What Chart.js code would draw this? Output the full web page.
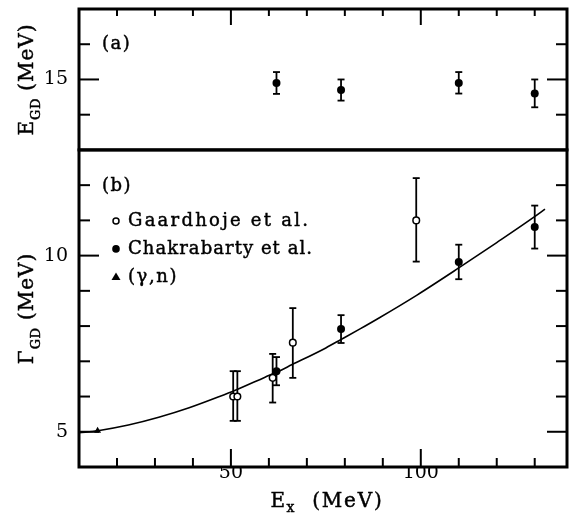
<!DOCTYPE html>
<html>
<head>
<meta charset="utf-8">
<script src="https://cdn.jsdelivr.net/npm/chart.js@4/dist/chart.umd.min.js"></script>
<style>
  html, body { margin: 0; padding: 0; background: #fff; }
  canvas { display: block; }
</style>
</head>
<body>
<canvas id="c" width="573" height="514"></canvas>
<script>
// Axis ticks (only the listed ones carry a label)
const X_TICKS = [20, 30, 40, 50, 60, 70, 80, 90, 100, 110, 120, 130];
const X_LABELED = [50, 100];
const EGD_TICKS = [14, 15, 16];
const EGD_LABELED = [15];
const GGD_TICKS = [5, 6, 7, 8, 9, 10, 11, 12];
const GGD_LABELED = [5, 10];

// (a) GDR centroid energy, Chakrabarty et al.
const EGD_EX  = [62, 79, 110, 130];
const EGD_VAL = [14.90, 14.70, 14.90, 14.60];
const EGD_LO  = [14.59, 14.40, 14.60, 14.21];
const EGD_HI  = [15.21, 15.00, 15.21, 15.00];

// (b) GDR width
const GAARD_EX  = [50.6, 51.7, 61.0, 66.3, 98.8];
const GAARD_VAL = [6.00, 6.00, 6.53, 7.53, 11.00];
const GAARD_LO  = [5.31, 5.31, 5.83, 6.53, 9.83];
const GAARD_HI  = [6.72, 6.72, 7.21, 8.51, 12.20];

const CHAK_EX  = [62, 79, 110, 130];
const CHAK_VAL = [6.72, 7.92, 9.82, 10.81];
const CHAK_LO  = [6.32, 7.52, 9.33, 10.20];
const CHAK_HI  = [7.12, 8.31, 10.31, 11.42];

const GN_EX  = [14.9];
const GN_VAL = [5.03];

// Calculated width versus excitation energy
const CURVE_EX  = [10, 15, 23, 31, 39, 47, 51, 59, 62, 66, 75, 79, 84, 89, 99, 110, 120, 129.5, 132.7];
const CURVE_VAL = [4.97, 5.03, 5.19, 5.41, 5.68, 6.00, 6.17, 6.55, 6.69, 6.90, 7.38, 7.62, 7.92, 8.23, 8.88, 9.65, 10.37, 11.07, 11.32];

const SERIF = '"DejaVu Serif", serif';
const pts = (xs, ys) => xs.map((x, i) => ({ x: x, y: ys[i] }));

Chart.defaults.font.family = SERIF;
Chart.defaults.color = '#000';

function line(ctx, x1, y1, x2, y2) {
  ctx.beginPath();
  ctx.moveTo(x1, y1);
  ctx.lineTo(x2, y2);
  ctx.stroke();
}

// Filled text with a hairline outline to give it a little more weight
function inkText(ctx, t, x, y) {
  ctx.fillText(t, x, y);
  ctx.strokeText(t, x, y);
}

// Draws text made of runs, some of them lowered as subscripts
function runs(ctx, parts, x, y, center) {
  let total = 0;
  parts.forEach(p => {
    ctx.font = p.size + 'px ' + SERIF;
    ctx.letterSpacing = (p.ls || 0) + 'px';
    p.w = ctx.measureText(p.t).width;
    total += p.w;
  });
  let cx = center ? x - total / 2 : x;
  ctx.textAlign = 'left';
  parts.forEach(p => {
    ctx.font = p.size + 'px ' + SERIF;
    ctx.letterSpacing = (p.ls || 0) + 'px';
    inkText(ctx, p.t, cx, y + (p.dy || 0));
    cx += p.w;
  });
  ctx.letterSpacing = '0px';
}

const panelPlugin = {
  id: 'panels',
  beforeDatasetsDraw(chart) {
    const ctx = chart.ctx;
    ctx.save();
    ctx.strokeStyle = '#000';
    ctx.lineWidth = 1.8;
    chart.data.datasets.forEach((ds, i) => {
      if (!ds.lo) return;
      const meta = chart.getDatasetMeta(i);
      const s = chart.scales[ds.yAxisID];
      meta.data.forEach((el, j) => {
        const y1 = s.getPixelForValue(ds.lo[j]);
        const y2 = s.getPixelForValue(ds.hi[j]);
        line(ctx, el.x, y1, el.x, y2);
        line(ctx, el.x - 3.5, y1, el.x + 3.5, y1);
        line(ctx, el.x - 3.5, y2, el.x + 3.5, y2);
      });
    });
    ctx.restore();
  },
  afterDraw(chart) {
    const ctx = chart.ctx;
    const xs = chart.scales.x, ya = chart.scales.yA, yb = chart.scales.yB;
    ctx.save();
    ctx.strokeStyle = '#000';
    ctx.fillStyle = '#000';

    // inward tick marks
    ctx.lineWidth = 2;
    X_TICKS.forEach(v => {
      const px = xs.getPixelForValue(v);
      const maj = X_LABELED.includes(v);
      line(ctx, px, ya.top, px, ya.top + (maj ? 16 : 7));
      line(ctx, px, yb.bottom, px, yb.bottom - (maj ? 18 : 9));
    });
    [[ya, EGD_TICKS, EGD_LABELED], [yb, GGD_TICKS, GGD_LABELED]].forEach(([s, t, l]) => {
      t.forEach(v => {
        const py = s.getPixelForValue(v);
        const len = l.includes(v) ? 20 : 11;
        line(ctx, xs.left, py, xs.left + len, py);
        line(ctx, xs.right, py, xs.right - len, py);
      });
    });

    // panel frames
    ctx.lineWidth = 3;
    ctx.strokeRect(xs.left, ya.top, xs.right - xs.left, ya.bottom - ya.top);
    ctx.strokeRect(xs.left, yb.top, xs.right - xs.left, yb.bottom - yb.top);

    // panel tags and legend
    ctx.lineWidth = 0.45;
    ctx.textBaseline = 'middle';
    ctx.textAlign = 'left';
    ctx.font = '18px ' + SERIF;
    ctx.letterSpacing = '1.5px';
    inkText(ctx, '(a)', xs.left + 23, ya.top + 35);
    inkText(ctx, '(b)', xs.left + 23, yb.top + 36);

    const lx = xs.left + 37, tx = xs.left + 49;
    const rows = [yb.top + 71, yb.top + 99, yb.top + 127];
    ctx.letterSpacing = '2.25px';
    inkText(ctx, 'Gaardhoje et al.', tx, rows[0]);
    ctx.letterSpacing = '1.05px';
    inkText(ctx, 'Chakrabarty et al.', tx, rows[1]);
    ctx.letterSpacing = '1.6px';
    inkText(ctx, '(\u03b3,n)', tx, rows[2]);
    ctx.letterSpacing = '0px';

    ctx.lineWidth = 1.5;
    ctx.beginPath();
    ctx.arc(lx, rows[0], 3, 0, Math.PI * 2);
    ctx.fillStyle = '#fff';
    ctx.fill();
    ctx.stroke();
    ctx.fillStyle = '#000';
    ctx.beginPath();
    ctx.arc(lx, rows[1], 3.8, 0, Math.PI * 2);
    ctx.fill();
    ctx.beginPath();
    ctx.moveTo(lx, rows[2] - 4.5);
    ctx.lineTo(lx + 4.5, rows[2] + 3);
    ctx.lineTo(lx - 4.5, rows[2] + 3);
    ctx.closePath();
    ctx.fill();

    // axis titles
    ctx.lineWidth = 0.45;
    ctx.textBaseline = 'alphabetic';
    runs(ctx, [{ t: 'E', size: 20, ls: 1.5 }, { t: 'x', size: 14, dy: 5, ls: 1.5 }, { t: '  (MeV)', size: 20, ls: 1.8 }],
      327, 507, true);

    [[ya, 'E'], [yb, '\u0393']].forEach(([s, sym]) => {
      ctx.save();
      ctx.translate(33, (s.top + s.bottom) / 2);
      ctx.rotate(-Math.PI / 2);
      runs(ctx, [{ t: sym, size: 20, ls: 1 }, { t: 'GD', size: 13, dy: 7, ls: 0.5 }, { t: ' (MeV)', size: 20, ls: 1 }], 0, 0, true);
      ctx.restore();
    });
    ctx.restore();
  }
};

function yAxis(weight, min, max, ticks, labeled) {
  return {
    type: 'linear', position: 'left', stack: 'panels', stackWeight: weight,
    min: min, max: max,
    afterBuildTicks: s => { s.ticks = ticks.map(v => ({ value: v })); },
    afterFit: s => { s.width = 79; s.paddingTop = 0; s.paddingBottom = 0; },
    ticks: {
      callback: v => labeled.includes(v) ? String(v) : null,
      padding: 11, font: { size: 19 }, color: '#000'
    },
    grid: { display: false, drawTicks: false },
    border: { display: false }
  };
}

new Chart(document.getElementById('c'), {
  type: 'scatter',
  data: {
    datasets: [
      {
        label: 'E_GD', yAxisID: 'yA', data: pts(EGD_EX, EGD_VAL), lo: EGD_LO, hi: EGD_HI,
        pointRadius: 4, backgroundColor: '#000', borderColor: '#000', borderWidth: 0
      },
      {
        label: 'Gaardhoje et al.', yAxisID: 'yB', data: pts(GAARD_EX, GAARD_VAL), lo: GAARD_LO, hi: GAARD_HI,
        pointRadius: 3.3, backgroundColor: '#fff', borderColor: '#000', borderWidth: 1.5
      },
      {
        label: 'Chakrabarty et al.', yAxisID: 'yB', data: pts(CHAK_EX, CHAK_VAL), lo: CHAK_LO, hi: CHAK_HI,
        pointRadius: 4, backgroundColor: '#000', borderColor: '#000', borderWidth: 0
      },
      {
        label: '(\u03b3,n)', yAxisID: 'yB', data: pts(GN_EX, GN_VAL),
        pointStyle: 'triangle', pointRadius: 4, backgroundColor: '#000', borderColor: '#000', borderWidth: 0
      },
      {
        type: 'line', label: 'calc', yAxisID: 'yB', data: pts(CURVE_EX, CURVE_VAL),
        borderColor: '#000', borderWidth: 1.6, pointRadius: 0, fill: false,
        cubicInterpolationMode: 'monotone'
      }
    ]
  },
  options: {
    responsive: false,
    animation: false,
    devicePixelRatio: 1,
    layout: { padding: { top: 9, right: 6, left: 0, bottom: 0 } },
    plugins: { legend: { display: false }, tooltip: { enabled: false } },
    scales: {
      x: {
        type: 'linear', position: 'bottom', min: 10, max: 138.5,
        afterBuildTicks: s => { s.ticks = X_TICKS.map(v => ({ value: v })); },
        afterFit: s => { s.height = 47; s.paddingLeft = 0; s.paddingRight = 0; },
        ticks: {
          callback: v => X_LABELED.includes(v) ? String(v) : null,
          padding: -5, font: { size: 19 }, color: '#000', maxRotation: 0
        },
        grid: { display: false, drawTicks: false },
        border: { display: false }
      },
      yB: yAxis(9, 4, 13, GGD_TICKS, GGD_LABELED),
      yA: yAxis(4, 13, 17, EGD_TICKS, EGD_LABELED)
    }
  },
  plugins: [panelPlugin]
});
</script>
</body>
</html>
